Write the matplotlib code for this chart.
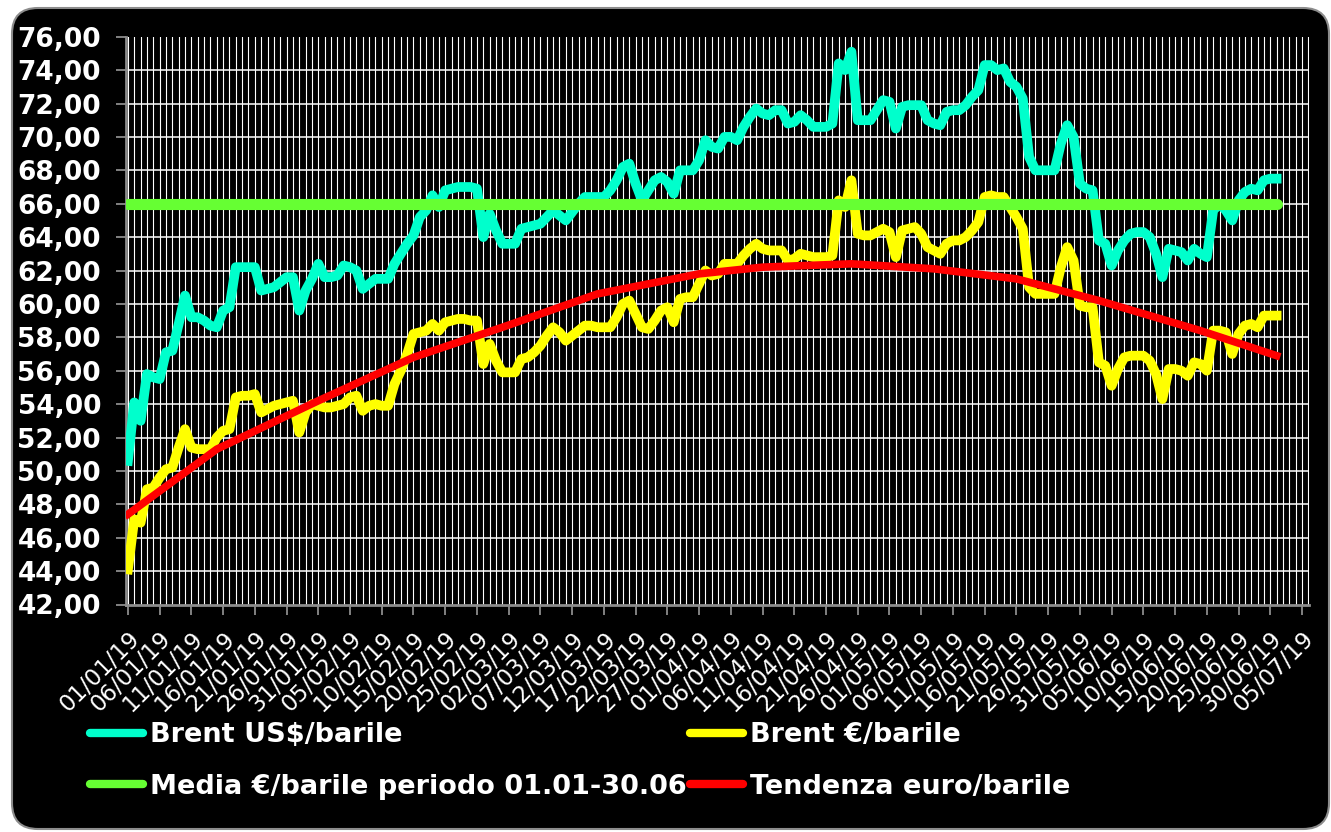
import numpy as np
import pandas as pd
import matplotlib.pyplot as plt
import matplotlib.dates as mdates
from matplotlib.patches import FancyBboxPatch
from matplotlib.lines import Line2D

# daily values 01/01/19 - 01/07/19
brent_usd = [
    50.6, 54.1, 53.0, 55.8, 55.6, 55.5, 57.1, 57.2, 58.8, 60.5,
    59.2, 59.2, 59.0, 58.7, 58.6, 59.6, 59.8, 62.2, 62.2, 62.2,
    62.2, 60.8, 60.9, 61.0, 61.3, 61.6, 61.6, 59.6, 60.8, 61.5,
    62.4, 61.6, 61.6, 61.7, 62.3, 62.2, 62.0, 60.9, 61.2, 61.5,
    61.5, 61.5, 62.4, 63.0, 63.6, 64.1, 65.2, 65.6, 66.5, 65.8,
    66.8, 66.9, 67.0, 67.0, 67.0, 66.9, 64.0, 65.4, 64.4, 63.6,
    63.6, 63.6, 64.5, 64.6, 64.7, 64.8, 65.2, 65.6, 65.3, 65.0,
    65.5, 66.0, 66.4, 66.4, 66.4, 66.4, 66.8, 67.4, 68.2, 68.4,
    67.2, 66.2, 66.8, 67.4, 67.6, 67.3, 66.6, 68.0, 68.0, 68.0,
    68.6, 69.8, 69.4, 69.3, 70.0, 70.0, 69.8, 70.6, 71.2, 71.7,
    71.4, 71.3, 71.6, 71.6, 70.8, 70.9, 71.3, 71.0, 70.6, 70.6,
    70.6, 70.8, 74.4, 74.0, 75.1, 71.0, 71.0, 71.0, 71.6, 72.2,
    72.1, 70.5, 71.8, 71.9, 71.9, 71.9, 71.0, 70.8, 70.7, 71.5,
    71.6, 71.6, 71.9, 72.4, 72.8, 74.3, 74.3, 74.0, 74.1, 73.3,
    73.0, 72.3, 68.8, 68.0, 68.0, 68.0, 68.0, 69.6, 70.7, 70.0,
    67.2, 66.9, 66.8, 63.8, 63.6, 62.3, 63.2, 63.8, 64.2, 64.3,
    64.3, 64.0, 63.0, 61.6, 63.3, 63.2, 63.1, 62.6, 63.3, 63.0,
    62.8, 65.6, 66.0, 65.6, 65.0, 66.2, 66.7, 66.9, 66.8, 67.4,
    67.5, 67.5,
]
brent_eur = [
    44.1, 47.1, 46.9, 48.9, 49.0, 49.6, 50.1, 50.2, 51.4, 52.5,
    51.4, 51.3, 51.3, 51.3, 52.0, 52.4, 52.5, 54.4, 54.5, 54.5,
    54.6, 53.5, 53.7, 53.9, 54.0, 54.1, 54.2, 52.3, 53.5, 54.0,
    53.9, 53.8, 53.8, 53.9, 54.0, 54.4, 54.5, 53.6, 53.9, 54.0,
    53.9, 53.9, 55.2, 56.0, 57.0, 58.2, 58.3, 58.4, 58.8, 58.4,
    58.9, 59.0, 59.1, 59.1, 59.0, 59.0, 56.4, 57.6, 56.6, 55.9,
    55.9, 55.9, 56.7, 56.8, 57.1, 57.5, 58.1, 58.6, 58.3, 57.8,
    58.1, 58.4, 58.7, 58.7, 58.6, 58.6, 58.6, 59.2, 60.0, 60.2,
    59.4, 58.6, 58.5, 59.0, 59.6, 59.8, 58.9, 60.3, 60.4, 60.4,
    61.2, 62.0, 61.7, 61.8, 62.4, 62.4, 62.4, 62.9, 63.3, 63.6,
    63.3, 63.2, 63.2, 63.2, 62.6, 62.7, 63.0, 62.9, 62.8, 62.8,
    62.8, 62.9, 66.2, 65.8, 67.4, 64.2, 64.1, 64.1, 64.3, 64.5,
    64.3, 62.8, 64.4, 64.5, 64.6, 64.2, 63.4, 63.2, 63.0, 63.6,
    63.8, 63.8, 64.0, 64.4, 64.9, 66.4, 66.5, 66.4, 66.4, 65.8,
    65.2, 64.5, 61.0, 60.6, 60.6, 60.6, 60.6, 62.2, 63.4, 62.6,
    59.9, 59.8, 59.8, 56.5, 56.3, 55.1, 56.1, 56.8, 56.9, 56.9,
    56.9, 56.6, 55.8, 54.3, 56.1, 56.1, 56.0, 55.7, 56.5, 56.4,
    56.0, 58.4, 58.4, 58.3, 57.0, 58.2, 58.7, 58.8, 58.6, 59.3,
    59.3, 59.3,
]
media_eur = 66.0
trend_days = [0, 14, 30, 45, 59, 74, 90, 100, 114, 127, 140, 153, 169, 181]
trend_eur = [47.4, 51.3, 54.2, 56.8, 58.6, 60.6, 61.8, 62.2, 62.4, 62.1, 61.5, 60.2, 58.4, 56.9]

labels = ["Brent US$/barile", "Brent €/barile",
          "Media €/barile periodo 01.01-30.06", "Tendenza euro/barile"]
colors = ["#00FFCC", "#FFFF00", "#66FF33", "#FF0000"]

dates = pd.date_range("2019-01-01", periods=len(brent_usd), freq="D")
trend_dates = pd.Timestamp("2019-01-01") + pd.to_timedelta(trend_days, unit="D")
tick_dates = pd.date_range("2019-01-01", "2019-07-05", freq="5D")
yticks = np.arange(42, 77, 2)

fig = plt.figure(figsize=(13.31, 8.32), dpi=100)
fig.patch.set_facecolor("white")
bg = FancyBboxPatch((12, 3), 1317, 821, boxstyle="round,pad=0,rounding_size=26",
                    facecolor="black", edgecolor="#8c8c8c", linewidth=1.5, transform=None,
                    zorder=-10)
fig.patches.append(bg)

ax = fig.add_axes([126 / 1331, 1 - 604.5 / 832, (1309 - 126) / 1331, (604.5 - 36.7) / 832])
ax.set_facecolor("black")

ax.plot(dates, brent_usd, color=colors[0], lw=7, solid_joinstyle="round", zorder=3)
ax.plot(dates, brent_eur, color=colors[1], lw=7, solid_joinstyle="round", zorder=4)
ax.plot([dates[0], dates[-1]], [media_eur, media_eur], color=colors[2], lw=8,
        solid_capstyle="round", zorder=5)
ax.plot(trend_dates, trend_eur, color=colors[3], lw=5.5, solid_joinstyle="round", zorder=6)

x0 = mdates.date2num(pd.Timestamp("2019-01-01"))
ax.set_xlim(x0 - 0.3, x0 + 186.1)
ax.set_ylim(42, 76)

# grid
for v in yticks[1:-1]:
    ax.axhline(v, color="white", lw=1.1, zorder=1)
ax.xaxis.set_minor_locator(mdates.DayLocator())
ax.grid(which="both", axis="x", color="white", lw=0.8, zorder=1)
ax.set_axisbelow(True)

ax.set_xticks(tick_dates)
ax.set_xticklabels([d.strftime("%d/%m/%y") for d in tick_dates], rotation=45,
                   ha="right", rotation_mode="anchor", color="white", fontsize=16.5)
ax.set_yticks(yticks)
ax.set_yticklabels([f"{v},00" for v in yticks], color="white", fontsize=19, fontweight="bold")
ax.tick_params(axis="x", which="major", length=7, width=1.3, color="#8c8c8c", pad=9)
ax.tick_params(axis="x", which="minor", length=0)
ax.tick_params(axis="y", length=7, width=1.3, color="#8c8c8c", pad=11)

for s in ["top", "right"]:
    ax.spines[s].set_visible(False)
for s in ["left", "bottom"]:
    ax.spines[s].set_color("#8c8c8c")
    ax.spines[s].set_linewidth(2)

handles = [Line2D([], [], color=c, lw=6, solid_capstyle="round") for c in colors]
leg = fig.legend([handles[0], handles[2], handles[1], handles[3]],
                 [labels[0], labels[2], labels[1], labels[3]],
                 ncol=2, loc="upper left", bbox_to_anchor=(90 / 1331, 1 - 722 / 832),
                 frameon=False, borderaxespad=0, borderpad=0,
                 handlelength=1.95, handletextpad=0.25, columnspacing=0.15,
                 labelspacing=0.95, prop={"size": 19.5, "weight": "bold"})
for t in leg.get_texts():
    t.set_color("white")

fig.savefig("out.png", dpi=100, facecolor="white")
